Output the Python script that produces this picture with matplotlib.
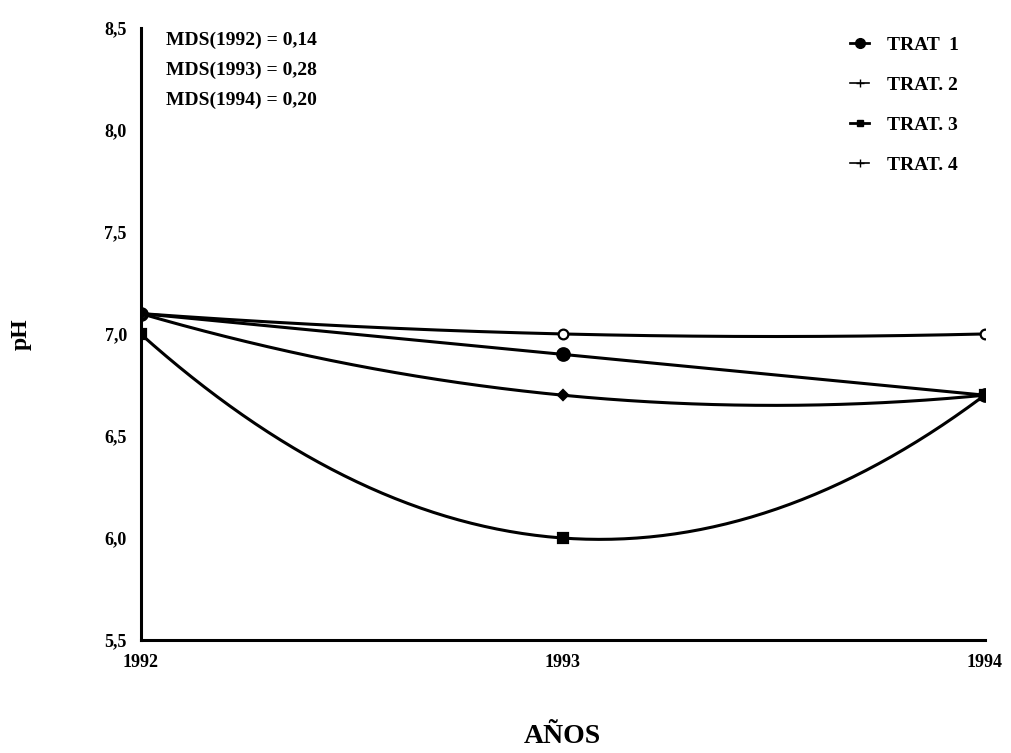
import matplotlib
matplotlib.use("Agg")
import matplotlib.pyplot as plt
import numpy as np

plt.rcParams["font.family"] = ["Liberation Serif", "DejaVu Serif"]
plt.rcParams["font.weight"] = "bold"

YEARS = [1992, 1993, 1994]
TRAT_1 = [7.1, 6.9, 6.7]
TRAT_2 = [7.1, 7.0, 7.0]
TRAT_3 = [7.0, 6.0, 6.7]
TRAT_4 = [7.1, 6.7, 6.7]
LABELS = ["TRAT  1", "TRAT. 2", "TRAT. 3", "TRAT. 4"]
MDS = ["MDS(1992) = 0,14", "MDS(1993) = 0,28", "MDS(1994) = 0,20"]
Y_TICKS = [5.5, 6.0, 6.5, 7.0, 7.5, 8.0, 8.5]

fig = plt.figure(figsize=(10.12, 7.53), dpi=100)
ax = fig.add_axes([0.139, 0.150, 0.834, 0.813])

# smooth curves like the original (quadratic through the three points)
x = np.array(YEARS, dtype=float)
xs = np.linspace(x[0], x[-1], 200)
series = [TRAT_1, TRAT_2, TRAT_3, TRAT_4]
markers = [("o", 9, "black"), ("o", 7, "white"), ("s", 7, "black"), ("D", 5, "black")]
for vals, (m, ms, fc), label in zip(series, markers, LABELS):
    coef = np.polyfit(x - x[0], vals, 2)
    ax.plot(xs, np.polyval(coef, xs - x[0]), color="black", lw=2.2)
    ax.plot(x, vals, ls="none", marker=m, ms=ms, mfc=fc, mec="black", mew=1.6)

handles = [
    plt.Line2D([], [], color="black", lw=2, marker="o", ms=7),
    plt.Line2D([], [], color="black", lw=1.2, marker="+", ms=6),
    plt.Line2D([], [], color="black", lw=2, marker="s", ms=5),
    plt.Line2D([], [], color="black", lw=1.2, marker="+", ms=6),
]
ax.legend(handles, LABELS, loc="upper right", bbox_to_anchor=(0.99, 1.015),
          frameon=False, handlelength=1.0, handletextpad=0.9, labelspacing=1.15,
          prop={"weight": "bold", "size": 14})

for i, t in enumerate(MDS):
    ax.text(0.03, 0.993 - i * 0.049, t, transform=ax.transAxes,
            fontsize=14, fontweight="bold", va="top", ha="left")

ax.set_xlim(1992, 1994)
ax.set_ylim(5.5, 8.5)
ax.set_xticks(YEARS)
ax.set_xticklabels([str(y) for y in YEARS])
ax.set_yticks(Y_TICKS)
ax.set_yticklabels([f"{v:.1f}".replace(".", ",") for v in Y_TICKS])
ax.tick_params(length=0, labelsize=13, pad=10)
for lab in ax.get_xticklabels() + ax.get_yticklabels():
    lab.set_fontweight("bold")
ax.spines["top"].set_visible(False)
ax.spines["right"].set_visible(False)
ax.spines["left"].set_linewidth(2.2)
ax.spines["bottom"].set_linewidth(2.2)

ax.set_xlabel("AÑOS", fontsize=20, fontweight="bold", labelpad=38)
ax.set_ylabel("pH", fontsize=17, fontweight="bold", labelpad=52)

fig.savefig("out.png", dpi=100)
